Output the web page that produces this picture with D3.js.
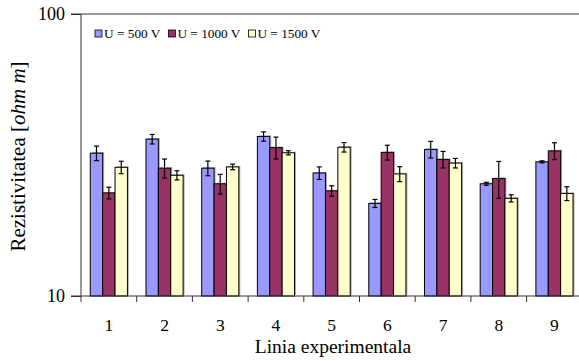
<!DOCTYPE html>
<html>
<head>
<meta charset="utf-8">
<script src="https://cdn.jsdelivr.net/npm/d3@7"></script>
<style>
  html, body { margin: 0; padding: 0; background: #fff; }
  svg { display: block; }
  svg text { font-family: "Liberation Serif", "Times New Roman", serif; fill: #000; }
</style>
</head>
<body>
<svg id="chart" width="579" height="361"></svg>
<script>
// Experimental lines on the x axis
const categories = ["1", "2", "3", "4", "5", "6", "7", "8", "9"];
const seriesNames = ["U = 500 V", "U = 1000 V", "U = 1500 V"];
const seriesColors = ["#9999FF", "#993366", "#FFFFCC"];

// Mean resistivity [ohm m] per line, per voltage
const u500  = [32.1, 36.0, 28.4, 36.8, 27.3, 21.3, 33.1, 25.0, 29.9];
const u1000 = [23.2, 28.4, 25.0, 33.6, 23.6, 32.3, 30.5, 26.1, 32.7];
const u1500 = [28.6, 26.8, 28.7, 32.2, 33.7, 27.1, 29.6, 22.2, 23.1];

// Error bar half-widths
const err500  = [1.9, 1.4, 1.7, 1.4, 1.4, 0.7, 2.25, 0.3, 0.25];
const err1000 = [1.1, 2.2, 2.0, 3.0, 1.0, 1.95, 2.05, 3.9, 2.25];
const err1500 = [1.45, 1.0, 0.65, 0.55, 1.3, 1.65, 1.15, 0.65, 1.3];

const yTicks = [10, 100];

const values = [u500, u1000, u1500];
const errors = [err500, err1000, err1500];

const svg = d3.select("#chart");
const x0 = 81, x1 = 582.3;
const yTop = 14, yBot = 296;
const axisColor = "#333";
const serif = "Liberation Serif, Times New Roman, serif";

const x = d3.scaleBand().domain(categories).range([x0, x1])
  .paddingInner(1 / 3).paddingOuter(1 / 6);
const xs = d3.scaleBand().domain(d3.range(3)).range([0, x.bandwidth()]);
const y = d3.scaleLog().domain([10, 100]).range([yBot, yTop]);

// Top edge of the plot frame
svg.append("line")
  .attr("x1", x0).attr("x2", x1).attr("y1", yTop).attr("y2", yTop)
  .attr("stroke", axisColor).attr("stroke-width", 1);

// Bars
const rows = [];
categories.forEach((c, i) => {
  for (let s = 0; s < 3; s++) rows.push({ c, s, v: values[s][i], e: errors[s][i] });
});

const g = svg.append("g");
// soft shadow behind bars
g.selectAll("rect.shadow").data(rows).join("rect")
  .attr("class", "shadow")
  .attr("x", d => x(d.c) + xs(d.s) + 1.5)
  .attr("y", d => y(d.v) - 1)
  .attr("width", xs.bandwidth())
  .attr("height", d => yBot - y(d.v))
  .attr("fill", "#b0b0b0");

g.selectAll("rect.bar").data(rows).join("rect")
  .attr("class", "bar")
  .attr("x", d => x(d.c) + xs(d.s))
  .attr("y", d => y(d.v))
  .attr("width", xs.bandwidth())
  .attr("height", d => yBot - y(d.v))
  .attr("fill", d => seriesColors[d.s])
  .attr("stroke", "#000").attr("stroke-width", 1);

// Error bars
const eb = svg.append("g").attr("stroke", "#000").attr("stroke-width", 1.2);
rows.forEach(d => {
  const cx = x(d.c) + xs(d.s) + xs.bandwidth() / 2;
  const ya = y(d.v + d.e), yb = y(d.v - d.e);
  eb.append("line").attr("x1", cx).attr("x2", cx).attr("y1", ya).attr("y2", yb);
  eb.append("line").attr("x1", cx - 2.5).attr("x2", cx + 2.5).attr("y1", ya).attr("y2", ya);
  eb.append("line").attr("x1", cx - 2.5).attr("x2", cx + 2.5).attr("y1", yb).attr("y2", yb);
});

// Y axis
const yAxis = d3.axisLeft(y).tickValues(yTicks).tickFormat(d3.format("d")).tickSize(10).tickPadding(6);
const yaG = svg.append("g").attr("transform", `translate(${x0},0)`).call(yAxis);
yaG.attr("font-family", serif);
yaG.select(".domain").attr("stroke", axisColor).attr("d", `M-10,${yTop}H0V${yBot}H-10`);
yaG.selectAll(".tick line").attr("stroke", axisColor);
yaG.selectAll("text").attr("font-size", 18).attr("font-family", serif);

// X axis: ticks at category boundaries
const xa = svg.append("g");
xa.append("line").attr("x1", x0).attr("x2", x1).attr("y1", yBot).attr("y2", yBot)
  .attr("stroke", axisColor);
categories.forEach(c => {
  const bx = x(c) - x.step() / 6;
  xa.append("line").attr("x1", bx).attr("x2", bx).attr("y1", yBot).attr("y2", yBot + 6)
    .attr("stroke", axisColor);
  xa.append("text").attr("x", x(c) + x.bandwidth() / 2).attr("y", 330.5)
    .attr("text-anchor", "middle").attr("font-size", 17.5).attr("font-family", serif).text(c);
});

// Axis titles
svg.append("text").attr("x", 333).attr("y", 353).attr("text-anchor", "middle")
  .attr("font-size", 19.5).attr("font-family", serif).text("Linia experimentala");

const yt = svg.append("text")
  .attr("transform", `translate(25,156.5) rotate(-90)`)
  .attr("text-anchor", "middle").attr("font-size", 21).attr("font-family", serif);
yt.append("tspan").text("Rezistivitatea [");
yt.append("tspan").attr("font-style", "italic").text("ohm m");
yt.append("tspan").text("]");

// Legend, laid out left to right
const lg = svg.append("g").attr("transform", "translate(95,33.5)");
let lx = 0;
seriesNames.forEach((n, i) => {
  const it = lg.append("g").attr("transform", `translate(${lx},0)`);
  it.append("rect").attr("x", 0).attr("y", -3.5).attr("width", 7).attr("height", 7)
    .attr("fill", seriesColors[i]).attr("stroke", "#000").attr("stroke-width", 0.8);
  const t = it.append("text").attr("x", 9).attr("y", 4.5).attr("font-size", 13.3)
    .attr("font-family", serif).text(n);
  lx += 9 + t.node().getComputedTextLength() + 8;
});
</script>
</body>
</html>
